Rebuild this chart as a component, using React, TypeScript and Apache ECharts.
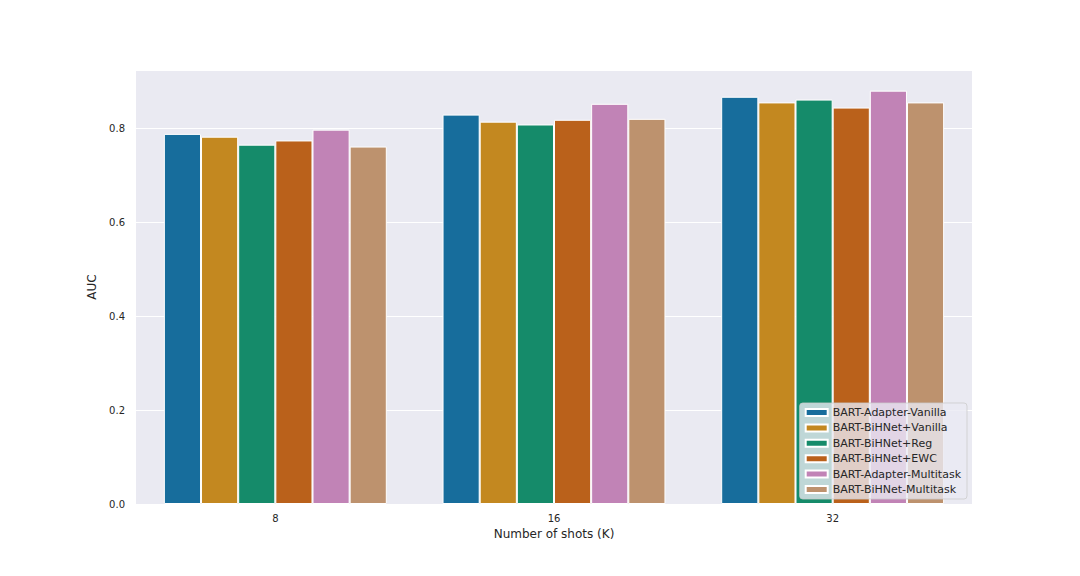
import React, { useEffect, useRef } from "react";
import * as echarts from "echarts";

const categories = ["8", "16", "32"];
const seriesNames = [
  "BART-Adapter-Vanilla",
  "BART-BiHNet+Vanilla",
  "BART-BiHNet+Reg",
  "BART-BiHNet+EWC",
  "BART-Adapter-Multitask",
  "BART-BiHNet-Multitask",
];
const adapterVanilla = [0.788, 0.829, 0.867];
const bihnetVanilla = [0.782, 0.814, 0.855];
const bihnetReg = [0.765, 0.808, 0.861];
const bihnetEwc = [0.774, 0.818, 0.844];
const adapterMultitask = [0.797, 0.852, 0.88];
const bihnetMultitask = [0.761, 0.82, 0.855];
const seriesValues = [
  adapterVanilla,
  bihnetVanilla,
  bihnetReg,
  bihnetEwc,
  adapterMultitask,
  bihnetMultitask,
];
const colors = ["#176D9C", "#C38820", "#158B6A", "#BA611B", "#C183B6", "#BD926E"];
const yTicks = [0, 0.2, 0.4, 0.6, 0.8];

const FONT = "DejaVu Sans";
const TEXT = "#262626";

export default function App() {
  const ref = useRef<HTMLDivElement>(null);
  useEffect(() => {
    if (!ref.current) return;
    const chart = echarts.init(ref.current, undefined, { renderer: "svg" });
    chart.setOption({
      animation: false,
      backgroundColor: "#ffffff",
      textStyle: { fontFamily: FONT },
      grid: {
        left: 136,
        right: 108,
        top: 70,
        bottom: 72,
        show: true,
        backgroundColor: "#EAEAF2",
        borderWidth: 0,
      },
      legend: {
        data: seriesNames,
        orient: "vertical",
        right: 113,
        bottom: 77,
        itemWidth: 22,
        itemHeight: 7,
        itemGap: 2.4,
        padding: [3, 6, 3, 5],
        backgroundColor: "rgba(234,234,242,0.8)",
        borderColor: "rgba(204,204,204,0.8)",
        borderWidth: 1,
        borderRadius: 3,
        icon: "rect",
        textStyle: { fontFamily: FONT, fontSize: 11, color: TEXT, lineHeight: 13 },
      },
      xAxis: {
        type: "category",
        data: categories,
        name: "Number of shots (K)",
        nameLocation: "middle",
        nameGap: 20,
        nameTextStyle: { fontFamily: FONT, fontSize: 12, color: TEXT },
        axisLine: { show: false },
        axisTick: { show: false },
        axisLabel: { fontFamily: FONT, fontSize: 10, color: TEXT, margin: 9 },
        splitLine: { show: false },
      },
      yAxis: {
        type: "value",
        min: 0,
        max: 0.924,
        interval: 0.2,
        name: "AUC",
        nameLocation: "middle",
        nameGap: 33,
        nameTextStyle: { fontFamily: FONT, fontSize: 12, color: TEXT },
        axisLine: { show: false },
        axisTick: { show: false },
        axisLabel: {
          fontFamily: FONT,
          fontSize: 10,
          color: TEXT,
          margin: 11,
          formatter: (v: number) => {
            const t = yTicks.find((x) => Math.abs(x - v) < 1e-6);
            return t === undefined ? "" : t.toFixed(1);
          },
        },
        splitLine: { show: true, lineStyle: { color: "#ffffff", width: 1 } },
      },
      series: seriesNames.map((name, i) => ({
        name,
        type: "bar",
        data: seriesValues[i],
        barGap: "0%",
        barCategoryGap: "20%",
        itemStyle: { color: colors[i], borderColor: "#ffffff", borderWidth: 1 },
      })),
    });
    return () => chart.dispose();
  }, []);
  return (
    <div
      ref={ref}
      style={{ position: "absolute", left: 0, top: 0, width: 1080, height: 576 }}
    />
  );
}
